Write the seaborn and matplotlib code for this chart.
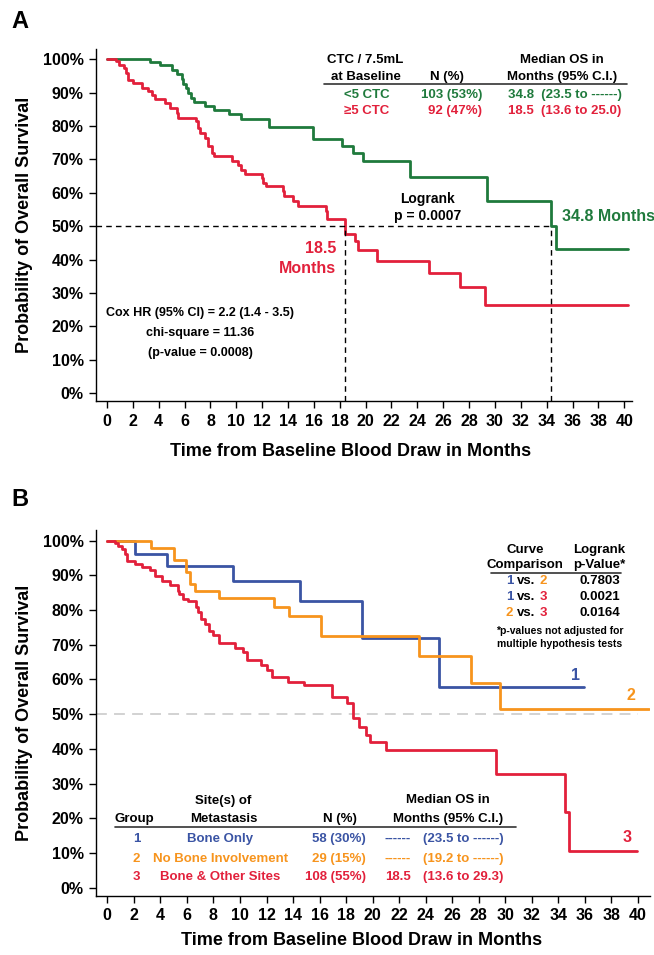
import matplotlib
matplotlib.use("Agg")
import matplotlib.pyplot as plt
import seaborn as sns
import pandas as pd
import numpy as np

sns.set_style("ticks")
plt.rcParams['font.family'] = ['Liberation Sans', 'DejaVu Sans']
plt.rcParams['font.weight'] = 'bold'
plt.rcParams['axes.labelweight'] = 'bold'
plt.rcParams['text.color'] = 'black'
plt.rcParams['axes.labelcolor'] = 'black'

GREEN = '#1f7a3c'
RED = '#e2203b'
BLUE = '#3a54a4'
ORANGE = '#f7941d'

# ---- panel A: CTC at baseline (months, % surviving) ----
low_ctc_t = [0, 3.3, 4.1, 5.0, 5.4, 5.8, 5.9, 6.1, 6.3, 6.5, 6.7, 7.6, 8.3, 9.4, 10.4,
             12.5, 15.9, 18.2, 19.0, 19.8, 23.4, 29.4, 34.3, 34.7, 40.3]
low_ctc_s = [100, 99.1, 98.4, 96.9, 95.7, 94.1, 92.6, 91.4, 89.9, 88.4, 87.1, 85.9, 84.9, 83.6, 82.2,
             79.6, 76.2, 73.9, 71.9, 69.4, 64.6, 57.4, 50.1, 43.1, 43.1]
high_ctc_t = [0, 0.7, 0.9, 1.3, 1.5, 1.6, 2.0, 2.7, 3.2, 3.5, 3.7, 4.5, 4.9, 5.4, 5.5, 6.9, 7.0,
              7.2, 7.6, 7.8, 8.1, 8.3, 9.7, 10.1, 10.4, 10.7, 12.0, 12.1, 12.3, 13.6, 13.7, 14.4,
              14.8, 16.9, 17.0, 18.4, 19.2, 19.4, 20.9, 24.9, 27.3, 29.2, 40.3]
high_ctc_s = [100, 99.4, 98.4, 97.4, 95.9, 93.9, 92.9, 91.4, 90.4, 89.4, 88.1, 86.9, 85.4, 83.9, 82.4,
              81.4, 79.4, 77.9, 76.4, 73.9, 71.9, 70.9, 69.6, 68.4, 66.9, 65.7, 64.4, 62.9, 61.9,
              60.4, 58.9, 57.6, 55.9, 54.4, 52.1, 47.6, 45.4, 42.9, 39.6, 36.1, 31.7, 26.4, 26.4]
median_high_line = 18.4
median_low_line = 34.3

# ---- panel B: site of metastasis ----
bone_t = [0, 2.1, 4.5, 9.5, 14.5, 19.2, 25.0, 35.9]
bone_s = [100, 96.2, 92.6, 88.3, 82.5, 72.0, 57.9, 57.9]
nobone_t = [0, 3.3, 5.0, 5.9, 6.2, 6.6, 8.4, 12.6, 13.7, 16.1, 23.5, 27.4, 29.6, 40.8]
nobone_s = [100, 98.0, 94.3, 90.9, 87.6, 85.4, 83.4, 80.8, 78.4, 72.4, 66.7, 59.1, 51.6, 51.6]
other_t = [0, 0.6, 0.8, 1.1, 1.35, 1.45, 2.1, 2.6, 3.2, 3.6, 4.1, 4.7, 5.3, 5.4, 5.7, 6.1, 6.7,
           6.8, 7.1, 7.4, 7.7, 8.0, 8.4, 9.6, 10.2, 10.5, 11.6, 12.0, 12.4, 13.6, 14.8, 16.9,
           18.1, 18.5, 19.0, 19.5, 19.8, 21.0, 29.3, 34.5, 34.8, 39.9]
other_s = [100, 99.2, 98.5, 97.6, 96.2, 94.1, 93.3, 92.3, 91.4, 89.9, 88.5, 87.1, 85.6, 84.5, 83.2,
           82.5, 81.0, 79.4, 77.5, 76.1, 74.1, 72.7, 70.5, 69.2, 67.9, 65.5, 64.1, 62.6, 60.7,
           59.3, 58.3, 55.0, 53.1, 48.8, 46.3, 44.0, 42.0, 39.7, 32.8, 21.8, 10.7, 10.7]

x_ticks = list(range(0, 41, 2))
y_ticks = [0, 0.1, 0.2, 0.3, 0.4, 0.5, 0.6, 0.7, 0.8, 0.9, 1.0]
y_tick_labels = ['0%', '10%', '20%', '30%', '40%', '50%', '60%', '70%', '80%', '90%', '100%']


def km_frame(t, s, name):
    return pd.DataFrame({'month': t, 'surv': np.array(s) / 100.0, 'group': name})


def style_axes(ax, xmax):
    ax.set_xlim(-0.85, xmax)
    ax.set_ylim(-0.024, 1.03)
    ax.set_xticks(x_ticks)
    ax.set_yticks(y_ticks)
    ax.set_yticklabels(y_tick_labels)
    sns.despine(ax=ax)
    for sp in ['left', 'bottom']:
        ax.spines[sp].set_linewidth(1.0)
        ax.spines[sp].set_color('black')
    ax.tick_params(direction='out', length=5, width=1, labelsize=11.5, colors='black', pad=4)
    ax.set_xlabel('Time from Baseline Blood Draw in Months', fontsize=13, fontweight='bold')
    ax.set_ylabel('Probability of Overall Survival', fontsize=13, fontweight='bold')


fig = plt.figure(figsize=(6.54, 9.55), dpi=100)
axA = fig.add_axes([0.1468, 0.5801, 0.8196, 0.3683])
axB = fig.add_axes([0.1468, 0.0618, 0.847, 0.383])

# ---------------- panel A ----------------
dfA = pd.concat([km_frame(low_ctc_t, low_ctc_s, '<5 CTC'),
                 km_frame(high_ctc_t, high_ctc_s, '>=5 CTC')])
sns.lineplot(data=dfA, x='month', y='surv', hue='group', palette={'<5 CTC': GREEN, '>=5 CTC': RED},
             estimator=None, sort=False, drawstyle='steps-post', lw=2, legend=False, ax=axA)
style_axes(axA, 40.6)

axA.plot([-0.85, median_low_line], [0.5, 0.5], color='black', lw=1, dashes=(4, 3))
axA.plot([median_high_line, median_high_line], [-0.024, 0.5], color='black', lw=1, dashes=(4, 3))
axA.plot([median_low_line, median_low_line], [-0.024, 0.5], color='black', lw=1, dashes=(4, 3))

fs = 9.5
axA.text(20.0, 0.997, 'CTC / 7.5mL', ha='center', va='center', fontsize=fs)
axA.text(20.0, 0.946, 'at Baseline', ha='center', va='center', fontsize=fs)
axA.text(26.3, 0.946, 'N (%)', ha='center', va='center', fontsize=fs)
axA.text(35.2, 0.997, 'Median OS in', ha='center', va='center', fontsize=fs)
axA.text(35.2, 0.946, 'Months (95% C.I.)', ha='center', va='center', fontsize=fs)
axA.plot([16.8, 40.2], [0.925, 0.925], color='#333333', lw=1.2)
axA.text(20.1, 0.894, '<5 CTC', ha='center', va='center', fontsize=fs, color=GREEN)
axA.text(29.0, 0.894, '103 (53%)', ha='right', va='center', fontsize=fs, color=GREEN)
axA.text(31.0, 0.894, '34.8  (23.5 to ------)', ha='left', va='center', fontsize=fs, color=GREEN)
axA.text(20.1, 0.846, '\u22655 CTC', ha='center', va='center', fontsize=fs, color=RED)
axA.text(29.0, 0.846, '92 (47%)', ha='right', va='center', fontsize=fs, color=RED)
axA.text(31.0, 0.846, '18.5  (13.6 to 25.0)', ha='left', va='center', fontsize=fs, color=RED)

axA.text(24.8, 0.582, 'Logrank', ha='center', va='center', fontsize=10)
axA.text(24.8, 0.529, 'p = 0.0007', ha='center', va='center', fontsize=10)
axA.text(35.2, 0.529, '34.8 Months', ha='left', va='center', fontsize=11.5, color=GREEN)
axA.text(17.7, 0.432, '18.5', ha='right', va='center', fontsize=11.5, color=RED)
axA.text(17.7, 0.374, 'Months', ha='right', va='center', fontsize=11.5, color=RED)

axA.text(7.2, 0.240, 'Cox HR (95% CI) = 2.2 (1.4 - 3.5)', ha='center', va='center', fontsize=9)
axA.text(7.2, 0.180, 'chi-square = 11.36', ha='center', va='center', fontsize=9)
axA.text(7.2, 0.120, '(p-value = 0.0008)', ha='center', va='center', fontsize=9)

axA.yaxis.set_label_coords(-0.118, 0.5)
axA.xaxis.set_label_coords(0.474, -0.12)

# ---------------- panel B ----------------
dfB = pd.concat([km_frame(bone_t, bone_s, '1'),
                 km_frame(nobone_t, nobone_s, '2'),
                 km_frame(other_t, other_s, '3')])
axB.hlines(0.5, -0.85, 40.0, color='#cfcfcf', lw=1.3, linestyles=(0, (6, 4)))
sns.lineplot(data=dfB, x='month', y='surv', hue='group', palette={'1': BLUE, '2': ORANGE, '3': RED},
             estimator=None, sort=False, drawstyle='steps-post', lw=2, legend=False, ax=axB)
style_axes(axB, 40.9)

axB.text(31.5, 0.973, 'Curve', ha='center', va='center', fontsize=fs)
axB.text(31.5, 0.930, 'Comparison', ha='center', va='center', fontsize=fs)
axB.text(37.1, 0.973, 'Logrank', ha='center', va='center', fontsize=fs)
axB.text(37.1, 0.930, 'p-Value*', ha='center', va='center', fontsize=fs)
axB.plot([28.9, 38.7], [0.907, 0.907], color='#333333', lw=1.2)

comparisons = [('1', BLUE, '2', ORANGE, '0.7803'),
               ('1', BLUE, '3', RED, '0.0021'),
               ('2', ORANGE, '3', RED, '0.0164')]
row_y = [0.883, 0.837, 0.792]
for (a, ca, b, cb, p), yy in zip(comparisons, row_y):
    axB.text(31.6, yy, 'vs.', ha='center', va='center', fontsize=fs)
    axB.annotate(a, (31.6, yy), xytext=(-9.5, 0), textcoords='offset points',
                 ha='right', va='center', fontsize=fs, color=ca)
    axB.annotate(b, (31.6, yy), xytext=(9.5, 0), textcoords='offset points',
                 ha='left', va='center', fontsize=fs, color=cb)
    axB.text(37.1, yy, p, ha='center', va='center', fontsize=fs)
axB.text(34.1, 0.741, '*p-values not adjusted for', ha='center', va='center', fontsize=7.5)
axB.text(34.1, 0.701, 'multiple hypothesis tests', ha='center', va='center', fontsize=7.5)

axB.text(35.3, 0.612, '1', ha='center', va='center', fontsize=11.5, color=BLUE)
axB.text(39.5, 0.555, '2', ha='center', va='center', fontsize=11.5, color=ORANGE)
axB.text(39.2, 0.145, '3', ha='center', va='center', fontsize=11.5, color=RED)

axB.text(8.75, 0.251, 'Site(s) of', ha='center', va='center', fontsize=fs)
axB.text(2.0, 0.197, 'Group', ha='center', va='center', fontsize=fs)
axB.text(8.75, 0.197, 'Metastasis', ha='center', va='center', fontsize=fs)
axB.text(17.5, 0.197, 'N (%)', ha='center', va='center', fontsize=fs)
axB.text(25.7, 0.253, 'Median OS in', ha='center', va='center', fontsize=fs)
axB.text(25.7, 0.197, 'Months (95% C.I.)', ha='center', va='center', fontsize=fs)
axB.plot([0.6, 30.8], [0.174, 0.174], color='#333333', lw=1.2)

site_groups = ['1', '2', '3']
site_names = ['Bone Only', 'No Bone Involvement', 'Bone & Other Sites']
site_n = ['58 (30%)', '29 (15%)', '108 (55%)']
site_median = ['------', '------', '18.5']
site_ci = ['(23.5 to ------)', '(19.2 to ------)', '(13.6 to 29.3)']
site_colors = [BLUE, ORANGE, RED]
site_y = [0.141, 0.083, 0.031]
for g, nm, n, med, ci, c, yy in zip(site_groups, site_names, site_n, site_median, site_ci,
                                    site_colors, site_y):
    axB.text(2.2, yy, g, ha='center', va='center', fontsize=fs, color=c)
    axB.text(8.5, yy, nm, ha='center', va='center', fontsize=fs, color=c)
    axB.text(19.5, yy, n, ha='right', va='center', fontsize=fs, color=c)
    axB.text(21.9, yy, med, ha='center', va='center', fontsize=fs, color=c)
    axB.text(23.8, yy, ci, ha='left', va='center', fontsize=fs, color=c)

axB.yaxis.set_label_coords(-0.114, 0.5)
axB.xaxis.set_label_coords(0.48, -0.098)

fig.text(0.018, 0.977, 'A', fontsize=17, fontweight='bold', va='center')
fig.text(0.018, 0.477, 'B', fontsize=17, fontweight='bold', va='center')

fig.savefig('out.png', dpi=100)
